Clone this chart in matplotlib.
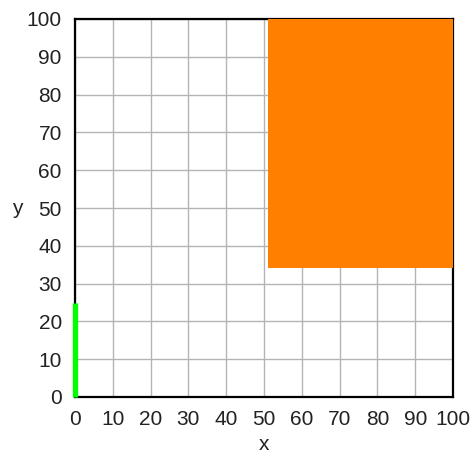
import matplotlib
matplotlib.use("Agg")
import matplotlib.pyplot as plt
from matplotlib.patches import Rectangle

plt.rcParams['font.family'] = ['Liberation Sans', 'DejaVu Sans']

# Region shaded in orange: [x0, x1] x [y0, y1]
orange_x = [51, 100]
orange_y = [34, 100]
# Vertical green segment along the y axis
green_x = [0, 0]
green_y = [0, 25]

ticks = list(range(0, 101, 10))

fig = plt.figure(figsize=(4.71, 4.54), dpi=100)
ax = fig.add_axes([75 / 471, 1 - 397 / 454, 378 / 471, 378 / 454])

ax.set_xlim(0, 100)
ax.set_ylim(0, 100)
ax.set_xticks(ticks)
ax.set_yticks(ticks)
ax.grid(True, color='#b4b4b4', linewidth=1.0)
ax.set_axisbelow(True)

ax.add_patch(Rectangle((orange_x[0], orange_y[0]),
                       orange_x[1] - orange_x[0], orange_y[1] - orange_y[0],
                       facecolor='#ff8000', edgecolor='none', zorder=2))
ax.plot(green_x, green_y, color='#00ff00', linewidth=3.8,
        solid_capstyle='butt', clip_on=False, zorder=3)

for s in ax.spines.values():
    s.set_linewidth(1.6)
    s.set_color('black')
    s.set_zorder(1)

ax.tick_params(length=0, labelsize=15, pad=9.5, colors='#222222')
ax.set_xlabel('x', fontsize=15, labelpad=4.5, color='#222222')
ax.set_ylabel('y', fontsize=15, rotation=0, labelpad=7, color='#222222',
              va='center')

fig.savefig('out.png', dpi=100)
